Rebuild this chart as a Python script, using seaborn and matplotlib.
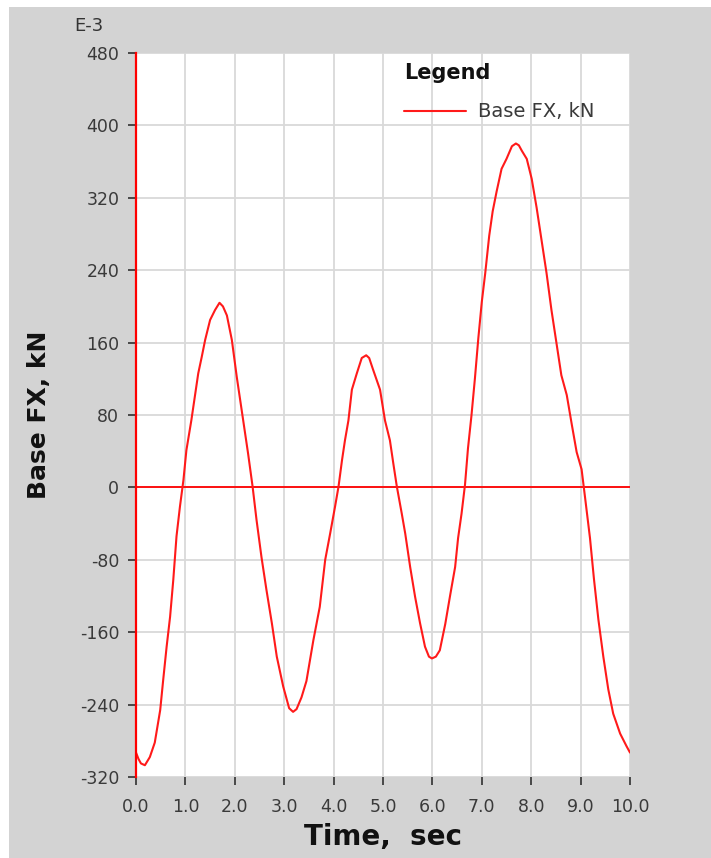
import matplotlib
matplotlib.use("Agg")
import matplotlib.pyplot as plt
import seaborn as sns
import pandas as pd
from matplotlib.patches import Rectangle

# ---- data (values in E-3 kN) ----
time_s = [0.0, 0.05, 0.1, 0.18, 0.28, 0.38, 0.49, 0.55, 0.62, 0.69, 0.755, 0.82, 0.89, 0.96,
          1.02, 1.12, 1.19, 1.26, 1.33, 1.40, 1.50, 1.60, 1.69, 1.76, 1.84, 1.94, 2.04, 2.17,
          2.27, 2.36, 2.44, 2.54, 2.64, 2.75, 2.85, 2.98, 3.10, 3.18, 3.25, 3.35, 3.45, 3.59,
          3.72, 3.83, 3.93, 4.03, 4.10, 4.17, 4.23, 4.30, 4.37, 4.47, 4.57, 4.66, 4.72, 4.80,
          4.94, 5.04, 5.14, 5.21, 5.28, 5.38, 5.45, 5.55, 5.65, 5.75, 5.85, 5.93, 5.99, 6.07,
          6.15, 6.26, 6.36, 6.46, 6.52, 6.59, 6.66, 6.72, 6.79, 6.86, 6.93, 7.0, 7.07, 7.15,
          7.22, 7.30, 7.40, 7.50, 7.61, 7.69, 7.75, 7.81, 7.91, 8.01, 8.11, 8.21, 8.31, 8.41,
          8.51, 8.61, 8.72, 8.82, 8.92, 9.02, 9.09, 9.19, 9.27, 9.36, 9.46, 9.56, 9.66, 9.80,
          9.93, 10.0]
base_fx = [-293, -300, -305, -307, -298, -282, -246, -213, -176, -143, -102, -54, -21, 8,
           41, 74, 100, 126, 144, 163, 185, 196, 204, 200, 190, 163, 122, 74,
           37, 1, -36, -77, -113, -150, -187, -220, -244, -248, -245, -232, -214, -169,
           -132, -80, -51, -21, 1, 30, 52, 74, 108, 126, 143, 146, 143, 130,
           108, 74, 52, 26, 1, -29, -51, -88, -121, -150, -176, -187, -189, -187,
           -180, -151, -119, -88, -56, -29, 3, 43, 79, 120, 165, 205, 237, 278,
           305, 327, 352, 363, 377, 380, 378, 372, 363, 341, 309, 273, 237, 196,
           160, 124, 102, 70, 39, 20, -11, -56, -101, -146, -187, -223, -250, -272,
           -286, -293]

x_ticks = [0, 1, 2, 3, 4, 5, 6, 7, 8, 9, 10]
x_tick_labels = ["0.0", "1.0", "2.0", "3.0", "4.0", "5.0", "6.0", "7.0", "8.0", "9.0", "10.0"]
y_ticks = [-320, -240, -160, -80, 0, 80, 160, 240, 320, 400, 480]
y_tick_labels = [str(v) for v in y_ticks]
series_name = "Base FX, kN"

sns.set_theme(style="white")
plt.rcParams['font.family'] = ['DejaVu Sans']

W, H = 711, 858
fig = plt.figure(figsize=(W / 100, H / 100), dpi=100, facecolor="white")
fig.patches.append(Rectangle((9 / W, 0), 1 - 9 / W, 1 - 7 / H, transform=fig.transFigure,
                             facecolor="#d3d3d3", edgecolor="none", zorder=-5))

ax = fig.add_axes([136 / W, (H - 777) / H, 494 / W, 724 / H])
ax.set_zorder(2)
ax.set_facecolor("white")

df = pd.DataFrame({"t": time_s, "v": base_fx})
sns.lineplot(data=df, x="t", y="v", ax=ax, color="#ff1a1a", lw=1.5, label=series_name,
             zorder=3)

ax.set_xlim(0, 10)
ax.set_ylim(-320, 480)
ax.set_xticks(x_ticks)
ax.set_xticklabels(x_tick_labels)
ax.set_yticks(y_ticks)
ax.set_yticklabels(y_tick_labels)
ax.grid(True, color="#d9d9d9", lw=1.3, zorder=0)
ax.set_axisbelow(True)
ax.axhline(0, color="#ff0000", lw=1.3, zorder=2)

for s in ["top", "right", "bottom"]:
    ax.spines[s].set_visible(False)
ax.spines["left"].set_color("#ff0000")
ax.spines["left"].set_linewidth(1.6)
ax.spines["left"].set_zorder(4)

ax.tick_params(axis="both", which="both", direction="out", length=6, width=1.1,
               color="#222222", labelcolor="#3a3a3a", labelsize=12.5,
               left=True, bottom=True)
ax.tick_params(axis="y", pad=6)
ax.tick_params(axis="x", pad=9)

ax.set_xlabel("")
ax.set_ylabel("")

fig.text(39 / W, 1 - 415 / H, "Base FX, kN", rotation=90, ha="center", va="center",
         fontsize=18, fontweight="bold", color="#111111")
fig.text(383 / W, 1 - 837 / H, "Time,  sec", ha="center", va="center",
         fontsize=20, fontweight="bold", color="#111111")
fig.text(74 / W, 1 - 26 / H, "E-3", ha="left", va="center", fontsize=13, color="#333333")

leg = ax.legend(loc="upper left", bbox_to_anchor=((404 - 136) / 494, (777 - 63) / 724),
                frameon=False, title="Legend", alignment="left", fontsize=14,
                handlelength=3.2, handletextpad=0.62, borderpad=0, borderaxespad=0,
                labelspacing=1.0)
leg.get_title().set_fontweight("bold")
leg.get_title().set_fontsize(15)
leg.get_title().set_color("#111111")
for t in leg.get_texts():
    t.set_color("#3a3a3a")

fig.savefig("out.png", dpi=100, facecolor="white")
